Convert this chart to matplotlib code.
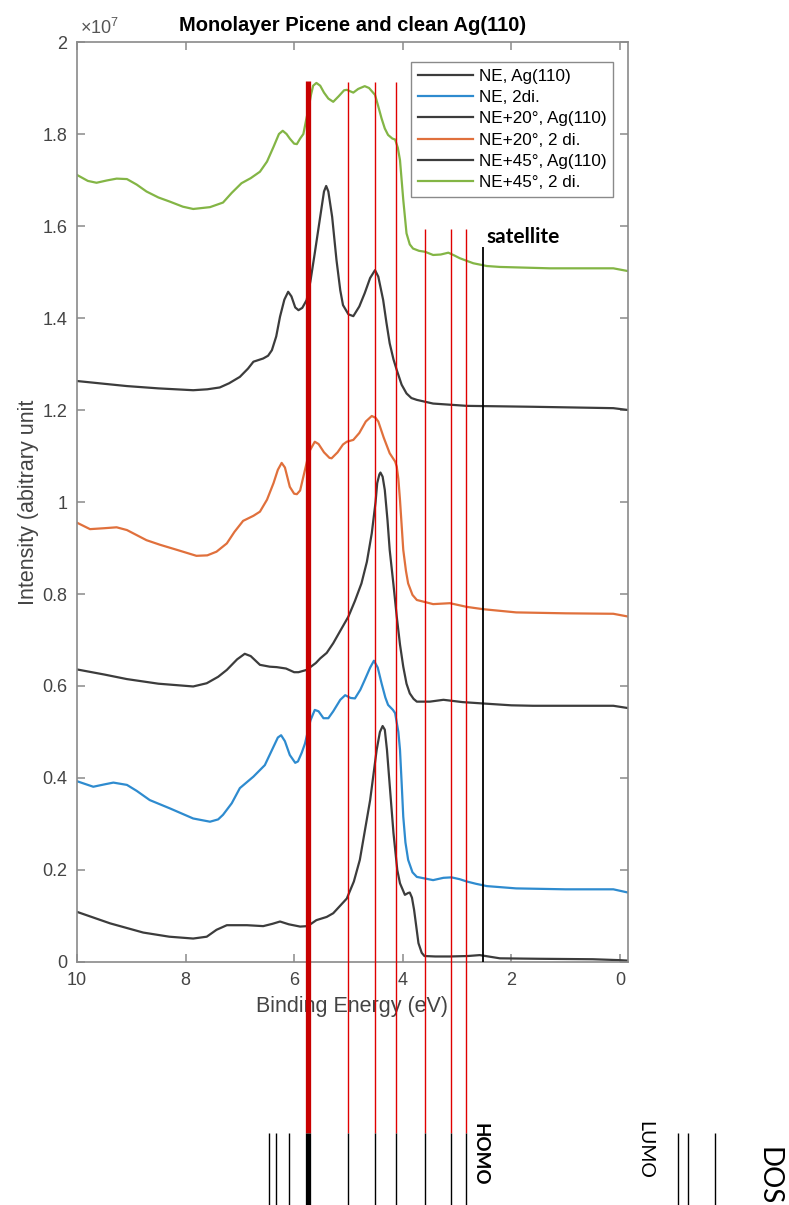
import numpy as np
import matplotlib
matplotlib.use("Agg")
import matplotlib.pyplot as plt
from matplotlib.ticker import FuncFormatter, MultipleLocator

plt.rcParams['font.family'] = ['Liberation Sans', 'DejaVu Sans']
plt.rcParams['mathtext.fontset'] = 'custom'
plt.rcParams['mathtext.rm'] = 'Liberation Sans'

# ---- spectra: binding energy (eV) and intensity (units of 1e7) ----
ne_ag_e = [10, 9.39, 8.78, 8.3, 7.86, 7.61, 7.43, 7.24, 6.87, 6.57, 6.4, 6.26, 6.1, 5.89, 5.75,
           5.59, 5.4, 5.28, 5.03, 4.9, 4.79, 4.6, 4.48, 4.42, 4.37, 4.33, 4.29, 4.23, 4.17, 4.1,
           4.05, 3.96, 3.9, 3.87, 3.83, 3.79, 3.71, 3.65, 3.6, 3.4, 3.13, 2.8, 2.58, 2.21, 1.5,
           0.5, 0, -0.15]
ne_ag_i = [0.109, 0.084, 0.064, 0.055, 0.051, 0.055, 0.070, 0.080, 0.080, 0.078, 0.083, 0.088,
           0.082, 0.077, 0.078, 0.091, 0.098, 0.106, 0.138, 0.175, 0.222, 0.352, 0.461, 0.500,
           0.513, 0.505, 0.461, 0.370, 0.280, 0.200, 0.171, 0.146, 0.150, 0.151, 0.140, 0.113,
           0.041, 0.020, 0.013, 0.012, 0.012, 0.013, 0.015, 0.008, 0.007, 0.006, 0.004, 0.003]

ne_2di_e = [10, 9.7, 9.5, 9.33, 9.08, 8.9, 8.66, 8.29, 7.86, 7.55, 7.4, 7.31, 7.15, 7.0, 6.75,
            6.54, 6.38, 6.3, 6.24, 6.17, 6.08, 5.98, 5.93, 5.86, 5.8, 5.7, 5.62, 5.55, 5.46, 5.37,
            5.28, 5.15, 5.06, 4.96, 4.88, 4.78, 4.7, 4.6, 4.53, 4.46, 4.39, 4.32, 4.27, 4.18,
            4.14, 4.08, 4.05, 4.02, 3.99, 3.95, 3.9, 3.82, 3.74, 3.44, 3.25, 3.1, 2.95, 2.82,
            2.65, 2.45, 1.91, 1.0, 0.12, -0.15]
ne_2di_i = [0.393, 0.381, 0.386, 0.390, 0.385, 0.372, 0.352, 0.334, 0.312, 0.305, 0.310, 0.320,
            0.345, 0.378, 0.403, 0.428, 0.468, 0.488, 0.493, 0.480, 0.450, 0.433, 0.436, 0.455,
            0.475, 0.525, 0.548, 0.545, 0.530, 0.530, 0.545, 0.570, 0.580, 0.574, 0.573, 0.592,
            0.613, 0.640, 0.655, 0.640, 0.606, 0.575, 0.559, 0.548, 0.541, 0.500, 0.461, 0.390,
            0.316, 0.260, 0.222, 0.195, 0.185, 0.178, 0.183, 0.184, 0.180, 0.175, 0.170, 0.165,
            0.160, 0.158, 0.158, 0.151]

ne20_ag_e = [10, 9.5, 9.08, 8.5, 7.86, 7.61, 7.4, 7.24, 7.05, 6.91, 6.8, 6.63, 6.45, 6.32, 6.15,
             6.0, 5.92, 5.77, 5.6, 5.52, 5.4, 5.28, 5.15, 5.0, 4.88, 4.76, 4.66, 4.57, 4.5, 4.47,
             4.43, 4.41, 4.37, 4.33, 4.28, 4.24, 4.17, 4.11, 4.05, 3.99, 3.93, 3.87, 3.8, 3.74,
             3.5, 3.25, 2.9, 2.52, 2.0, 1.6, 0.12, -0.15]
ne20_ag_i = [0.636, 0.625, 0.615, 0.605, 0.599, 0.606, 0.620, 0.635, 0.658, 0.670, 0.665, 0.646,
             0.642, 0.641, 0.638, 0.630, 0.630, 0.635, 0.650, 0.660, 0.672, 0.693, 0.720, 0.751,
             0.785, 0.823, 0.870, 0.932, 1.000, 1.041, 1.060, 1.064, 1.055, 1.026, 0.960, 0.896,
             0.820, 0.751, 0.690, 0.642, 0.605, 0.584, 0.572, 0.566, 0.566, 0.570, 0.565, 0.562,
             0.558, 0.557, 0.557, 0.552]

ne20_2di_e = [10, 9.76, 9.5, 9.27, 9.08, 8.72, 8.47, 8.16, 7.8, 7.6, 7.43, 7.24, 7.1, 6.94, 6.75,
              6.63, 6.5, 6.38, 6.3, 6.23, 6.17, 6.08, 6.0, 5.95, 5.89, 5.8, 5.72, 5.62, 5.55, 5.45,
              5.35, 5.31, 5.2, 5.1, 5.03, 4.91, 4.8, 4.68, 4.57, 4.5, 4.45, 4.35, 4.24, 4.14, 4.11,
              4.08, 4.05, 3.99, 3.94, 3.9, 3.82, 3.74, 3.44, 3.13, 2.82, 2.52, 1.91, 1.0, 0.12,
              -0.15]
ne20_2di_i = [0.955, 0.941, 0.943, 0.945, 0.939, 0.917, 0.907, 0.896, 0.883, 0.884, 0.892, 0.910,
              0.935, 0.959, 0.970, 0.979, 1.005, 1.041, 1.070, 1.085, 1.075, 1.033, 1.018, 1.017,
              1.025, 1.070, 1.110, 1.131, 1.126, 1.108, 1.096, 1.095, 1.108, 1.125, 1.131, 1.135,
              1.150, 1.175, 1.187, 1.183, 1.175, 1.140, 1.106, 1.088, 1.077, 1.050, 1.004, 0.896,
              0.850, 0.823, 0.798, 0.787, 0.778, 0.780, 0.772, 0.767, 0.760, 0.758, 0.757, 0.751]

ne45_ag_e = [10, 9.5, 9.08, 8.5, 7.86, 7.6, 7.37, 7.2, 7.0, 6.85, 6.75, 6.57, 6.48, 6.41, 6.33,
             6.26, 6.18, 6.11, 6.05, 5.98, 5.92, 5.85, 5.77, 5.7, 5.62, 5.52, 5.45, 5.41, 5.37,
             5.3, 5.22, 5.15, 5.1, 5.0, 4.91, 4.8, 4.7, 4.6, 4.51, 4.45, 4.36, 4.3, 4.24, 4.17,
             4.11, 4.02, 3.93, 3.84, 3.74, 3.44, 2.82, 1.6, 0.12, -0.15]
ne45_ag_i = [1.263, 1.257, 1.252, 1.247, 1.243, 1.245, 1.249, 1.258, 1.272, 1.290, 1.305, 1.312,
             1.318, 1.330, 1.360, 1.403, 1.440, 1.457, 1.447, 1.423, 1.417, 1.422, 1.439, 1.480,
             1.541, 1.620, 1.675, 1.687, 1.675, 1.620, 1.526, 1.460, 1.428, 1.408, 1.404, 1.425,
             1.454, 1.487, 1.504, 1.490, 1.439, 1.390, 1.345, 1.310, 1.287, 1.255, 1.236, 1.226,
             1.222, 1.214, 1.209, 1.207, 1.204, 1.200]

ne45_2di_e = [10, 9.8, 9.64, 9.45, 9.27, 9.08, 8.9, 8.72, 8.5, 8.29, 8.05, 7.86, 7.55, 7.31, 7.15,
              6.97, 6.8, 6.63, 6.5, 6.38, 6.28, 6.21, 6.14, 6.08, 6.0, 5.95, 5.89, 5.83, 5.78,
              5.74, 5.69, 5.65, 5.59, 5.52, 5.45, 5.37, 5.28, 5.18, 5.08, 5.03, 4.97, 4.91, 4.82,
              4.7, 4.62, 4.51, 4.45, 4.39, 4.33, 4.27, 4.19, 4.14, 4.09, 4.05, 3.99, 3.93, 3.87,
              3.81, 3.7, 3.59, 3.44, 3.3, 3.16, 3.05, 2.95, 2.7, 2.45, 2.21, 1.29, 0.12, -0.15]
ne45_2di_i = [1.711, 1.698, 1.694, 1.699, 1.703, 1.702, 1.690, 1.675, 1.662, 1.653, 1.642, 1.637,
              1.641, 1.651, 1.672, 1.693, 1.704, 1.718, 1.740, 1.772, 1.800, 1.807, 1.800, 1.790,
              1.779, 1.778, 1.790, 1.800, 1.830, 1.852, 1.885, 1.905, 1.911, 1.905, 1.890, 1.877,
              1.870, 1.882, 1.895, 1.896, 1.893, 1.890, 1.898, 1.904, 1.900, 1.885, 1.860, 1.834,
              1.812, 1.798, 1.790, 1.788, 1.770, 1.743, 1.657, 1.584, 1.560, 1.551, 1.546, 1.544,
              1.537, 1.538, 1.542, 1.536, 1.530, 1.519, 1.513, 1.511, 1.508, 1.508, 1.502]

series_labels = ['NE, Ag(110)', 'NE, 2di.', 'NE+20°, Ag(110)', 'NE+20°, 2 di.',
                 'NE+45°, Ag(110)', 'NE+45°, 2 di.']
series_colors = ['#3c3c3c', '#2e8bcf', '#3c3c3c', '#e0703c', '#3c3c3c', '#83b545']

# ---- level markers (eV) ----
peak_lines = [5.75, 5.0, 4.51, 4.12]          # red markers through the main peaks
low_lines = [3.59, 3.11, 2.83]                 # red markers in the low-energy region
satellite_line = 2.52
dos_levels = [6.46, 6.33, 6.10, 5.75, 5.0, 4.51, 4.12, 3.59, 3.11, 2.83, -1.07, -1.25, -1.75]

fig = plt.figure(figsize=(7.89, 12.05), dpi=100)
ax = fig.add_axes([77 / 789, 243 / 1205, 551 / 789, 920 / 1205])

curves = [(ne_ag_e, ne_ag_i), (ne_2di_e, ne_2di_i), (ne20_ag_e, ne20_ag_i),
          (ne20_2di_e, ne20_2di_i), (ne45_ag_e, ne45_ag_i), (ne45_2di_e, ne45_2di_i)]
for (e, i), lab, col in zip(curves, series_labels, series_colors):
    ax.plot(e, np.array(i) * 1e7, color=col, lw=1.6, label=lab,
            solid_joinstyle='round', zorder=2)

ax.set_xlim(10, -0.15)
ax.set_ylim(0, 2e7)
ax.xaxis.set_major_locator(MultipleLocator(2))
ax.yaxis.set_major_locator(MultipleLocator(0.2e7))
ax.yaxis.set_major_formatter(FuncFormatter(lambda v, p: f"{v / 1e7:g}"))
ax.xaxis.set_major_formatter(FuncFormatter(lambda v, p: f"{v:g}"))

grey = '#8a8a8a'
for s in ax.spines.values():
    s.set_color(grey)
    s.set_linewidth(1.2)
ax.tick_params(direction='in', top=True, right=True, length=6, width=1.1, color=grey,
               labelcolor='#444444', labelsize=13, pad=7)

ax.set_xlabel('Binding Energy (eV)', fontsize=15.5, color='#444444', labelpad=5)
ax.set_ylabel('Intensity (abitrary unit', fontsize=15.5, color='#444444', labelpad=2)
ax.set_title('Monolayer Picene and clean Ag(110)', fontsize=14.5, fontweight='bold', pad=8)
ax.text(0.005, 1.004, r'$\times\mathregular{10^{7}}$', transform=ax.transAxes,
        ha='left', va='bottom', fontsize=13, color='#555555')

leg = ax.legend(loc='upper right', bbox_to_anchor=(0.973, 0.978), fontsize=12.3,
                handlelength=3.2, handletextpad=0.35, labelspacing=0.36,
                borderpad=0.4, fancybox=False, framealpha=1, borderaxespad=0)
leg.get_frame().set_edgecolor(grey)
leg.get_frame().set_linewidth(1.0)
leg.set_zorder(6)

xt = ax.get_xaxis_transform()
# vertical markers (y in axes fraction so they run below the axes)
ax.vlines(peak_lines[0], -0.186, 0.9576, colors='#c80000', lw=3.8, transform=xt,
          clip_on=False, zorder=5)
ax.vlines(peak_lines[1:], -0.186, 0.9565, colors='#e00000', lw=1.0, transform=xt,
          clip_on=False, zorder=5)
ax.vlines(low_lines, -0.186, 0.797, colors='#e00000', lw=1.0, transform=xt,
          clip_on=False, zorder=5)
ax.vlines(satellite_line, 0, 0.777, colors='black', lw=1.3, transform=xt,
          clip_on=False, zorder=5)
ax.text(2.45, 0.7815, 'satellite', transform=xt, family=['Lato', 'DejaVu Sans'],
        fontweight='bold', fontsize=15, ha='left', va='baseline', zorder=6)

# density-of-states level bars below the spectrum
lw_levels = [3.8 if e == 5.75 else 1.0 for e in dos_levels]
ax.vlines(dos_levels, -0.2641, -0.186, colors='black', lw=lw_levels, transform=xt,
          clip_on=False, zorder=5)
ax.text(2.58, -0.2087, 'HOMO', transform=xt, rotation=-90, family=['Lato', 'DejaVu Sans'],
        fontweight='bold', fontsize=13.5, ha='center', va='center')
ax.text(-0.45, -0.2043, 'LUMO', transform=xt, rotation=-90, family=['Lato', 'DejaVu Sans'],
        fontsize=14, ha='center', va='center')
ax.text(-2.98, -0.201, 'DOS', transform=xt, rotation=-90, family=['Lato', 'DejaVu Sans'],
        fontsize=20, ha='right', va='top')

fig.savefig('out.png', dpi=100)
